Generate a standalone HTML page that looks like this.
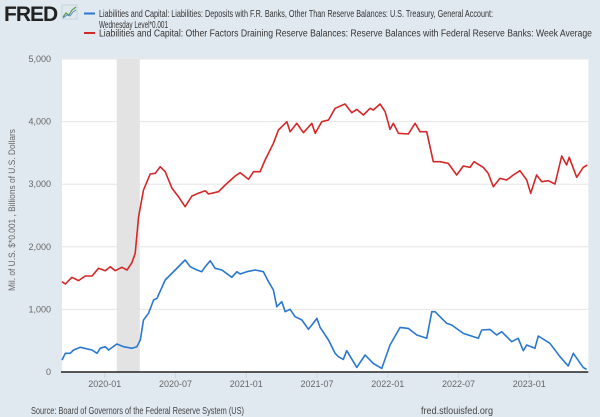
<!DOCTYPE html>
<html><head><meta charset="utf-8">
<style>
html,body{margin:0;padding:0;width:600px;height:417px;overflow:hidden;background:#e1e9f0;font-family:"Liberation Sans",sans-serif;}
svg{display:block}
</style></head>
<body>
<svg id="chart" width="600" height="417" viewBox="0 0 600 417" xmlns="http://www.w3.org/2000/svg">
  <rect width="600" height="417" fill="#e1e9f0"/>
  <g>
    <text x="4" y="21" font-size="21" font-weight="bold" fill="#222" font-family="Liberation Sans, sans-serif" letter-spacing="-1">FRED</text>
    <rect x="62" y="5" width="15" height="14" fill="#dfe8ee" stroke="#b8c6d0" stroke-width="0.6"/>
    <polyline points="63,17 66,13 69,15 72,10 76,7" fill="none" stroke="#5a9e4b" stroke-width="1.2"/>
    <polyline points="63,18 67,15 70,16 73,12 76,10" fill="none" stroke="#4a7fc1" stroke-width="0.8"/>
  </g>
  <g font-size="10" fill="#333">
    <g>
      <line x1="84" y1="13.5" x2="95" y2="13.5" stroke="#2a77d0" stroke-width="2"/>
      <text x="99" y="17" textLength="394" lengthAdjust="spacingAndGlyphs">Liabilities and Capital: Liabilities: Deposits with F.R. Banks, Other Than Reserve Balances: U.S. Treasury, General Account:</text>
      <text x="99" y="28" textLength="69" lengthAdjust="spacingAndGlyphs">Wednesday Level*0.001</text>
    </g>
    <g>
      <line x1="84" y1="33" x2="95" y2="33" stroke="#d62728" stroke-width="2"/>
      <text x="99" y="36.5" textLength="493" lengthAdjust="spacingAndGlyphs">Liabilities and Capital: Other Factors Draining Reserve Balances: Reserve Balances with Federal Reserve Banks: Week Average</text>
    </g>
  </g>
  <rect x="62" y="59" width="526.3" height="313" fill="#ffffff"/>
  <g id="grid"></g>
  <g id="recession"></g>
  <g id="series"></g>
  <g id="yaxis" font-size="9" fill="#666"></g>
  <g id="xaxis" font-size="9" fill="#666"></g>
  <text transform="translate(15,210) rotate(-90)" text-anchor="middle" font-size="9.5" fill="#666" textLength="162" lengthAdjust="spacingAndGlyphs">Mil. of U.S. $*0.001 , Billions of U.S. Dollars</text>
  <text x="31" y="414" font-size="10" fill="#444" textLength="213" lengthAdjust="spacingAndGlyphs">Source: Board of Governors of the Federal Reserve System (US)</text>
  <text x="421" y="414" font-size="10" fill="#444" textLength="72" lengthAdjust="spacingAndGlyphs">fred.stlouisfed.org</text>
</svg>
<script>
const xDomain = [2019.698, 2023.417];
const yDomain = [0, 5000];
const yTicks = [0, 1000, 2000, 3000, 4000, 5000];
const yTickLabels = ["0", "1,000", "2,000", "3,000", "4,000", "5,000"];
const xTicks = [2020.0, 2020.5, 2021.0, 2021.5, 2022.0, 2022.5, 2023.0];
const xTickLabels = ["2020-01", "2020-07", "2021-01", "2021-07", "2022-01", "2022-07", "2023-01"];
const recessionRange = [2020.085, 2020.248];

const redDates = [2019.698,2019.721,2019.768,2019.815,2019.862,2019.910,2019.956,2020.004,2020.039,2020.074,2020.121,2020.157,2020.192,2020.215,2020.239,2020.274,2020.321,2020.357,2020.392,2020.427,2020.475,2020.521,2020.568,2020.616,2020.662,2020.710,2020.733,2020.804,2020.851,2020.922,2020.957,2021.016,2021.051,2021.098,2021.133,2021.192,2021.227,2021.287,2021.310,2021.357,2021.404,2021.463,2021.487,2021.534,2021.581,2021.628,2021.698,2021.746,2021.781,2021.828,2021.875,2021.898,2021.946,2021.981,2022.016,2022.040,2022.075,2022.145,2022.193,2022.228,2022.275,2022.322,2022.369,2022.428,2022.487,2022.534,2022.581,2022.609,2022.675,2022.710,2022.746,2022.793,2022.840,2022.887,2022.934,2022.982,2023.010,2023.052,2023.088,2023.134,2023.182,2023.229,2023.264,2023.282,2023.335,2023.381,2023.410];
const redValues = [1443,1405,1512,1460,1533,1533,1656,1618,1682,1618,1672,1629,1746,1896,2481,2907,3163,3174,3280,3200,2934,2800,2641,2812,2854,2896,2843,2880,2987,3131,3184,3078,3200,3200,3387,3653,3866,3999,3839,3973,3823,3973,3813,3999,4026,4212,4281,4142,4195,4105,4212,4185,4281,4158,3877,3973,3813,3802,3973,3839,3839,3360,3360,3333,3147,3291,3269,3360,3269,3173,2960,3094,3067,3147,3216,3067,2854,3147,3040,3056,3003,3450,3307,3429,3110,3269,3307];

const blueDates = [2019.698,2019.721,2019.756,2019.780,2019.827,2019.910,2019.945,2019.968,2020.004,2020.027,2020.086,2020.133,2020.192,2020.227,2020.251,2020.274,2020.309,2020.345,2020.369,2020.427,2020.498,2020.568,2020.604,2020.651,2020.686,2020.710,2020.745,2020.780,2020.828,2020.898,2020.934,2020.957,2021.004,2021.063,2021.121,2021.157,2021.192,2021.216,2021.251,2021.275,2021.310,2021.345,2021.393,2021.439,2021.463,2021.499,2021.522,2021.581,2021.628,2021.651,2021.686,2021.710,2021.781,2021.840,2021.898,2021.958,2022.016,2022.087,2022.145,2022.205,2022.275,2022.311,2022.334,2022.417,2022.452,2022.534,2022.640,2022.664,2022.722,2022.770,2022.805,2022.876,2022.922,2022.958,2022.982,2023.040,2023.064,2023.146,2023.217,2023.275,2023.311,2023.381,2023.405];
const blueValues = [190,298,298,351,394,351,298,378,404,351,447,404,378,404,511,830,937,1150,1177,1470,1629,1789,1682,1629,1603,1682,1778,1656,1629,1512,1603,1565,1603,1629,1603,1443,1310,1043,1123,964,1001,884,830,682,751,857,713,511,298,244,202,340,74,271,138,58,431,713,697,591,538,964,964,777,751,617,538,671,681,591,644,484,538,340,431,378,575,458,244,96,298,74,42];

const NS = "http://www.w3.org/2000/svg";
const plot = {left: 62, right: 588.3, top: 59, bottom: 372};
function xScale(t){ return plot.left + (t - xDomain[0]) / (xDomain[1] - xDomain[0]) * (plot.right - plot.left); }
function yScale(v){ return plot.bottom - (v - yDomain[0]) / (yDomain[1] - yDomain[0]) * (plot.bottom - plot.top); }
function mk(tag, attrs){ const e = document.createElementNS(NS, tag); for (const k in attrs) e.setAttribute(k, attrs[k]); return e; }

const grid = document.getElementById('grid');
const yaxis = document.getElementById('yaxis');
yTicks.forEach((v, i) => {
  if (v > 0) {
    const g = mk('line', {x1: plot.left, x2: plot.right, y1: yScale(v), y2: yScale(v), stroke: '#e6e6e6', 'stroke-width': 1});
    
    
    grid.appendChild(g);
  }
  const t = mk('text', {x: 51, y: yScale(v) + 3, 'text-anchor': 'end'});
  t.textContent = yTickLabels[i];
  
  
  yaxis.appendChild(t);
});

const rec = document.getElementById('recession');
const rr = mk('rect', {x: xScale(recessionRange[0]), y: plot.top, width: xScale(recessionRange[1]) - xScale(recessionRange[0]), height: plot.bottom - plot.top, fill: '#e3e3e3'});


rec.appendChild(rr);

const xaxis = document.getElementById('xaxis');
xTicks.forEach((tv, i) => {
  const x = xScale(tv);
  const tk = mk('line', {x1: x, x2: x, y1: plot.bottom, y2: plot.bottom + 6, stroke: '#ccd6eb', 'stroke-width': 1});
  
  
  xaxis.appendChild(tk);
  const t = mk('text', {x: x, y: 387, 'text-anchor': 'middle'});
  t.textContent = xTickLabels[i];
  
  
  xaxis.appendChild(t);
});
const base = mk('line', {x1: plot.left - 1, x2: plot.right, y1: plot.bottom, y2: plot.bottom, stroke: '#222', 'stroke-width': 1.6});


xaxis.appendChild(base);

const series = document.getElementById('series');
function drawLine(dates, vals, color, name){
  const pts = dates.map((d, i) => xScale(d).toFixed(1) + ',' + yScale(vals[i]).toFixed(1)).join(' ');
  const p = mk('polyline', {points: pts, fill: 'none', stroke: color, 'stroke-width': 1.6, 'stroke-linejoin': 'round'});
  
  
  series.appendChild(p);
}
drawLine(redDates, redValues, '#d62728', 'reserve-balances-line');
drawLine(blueDates, blueValues, '#2a77d0', 'treasury-account-line');
</script>
</body></html>
